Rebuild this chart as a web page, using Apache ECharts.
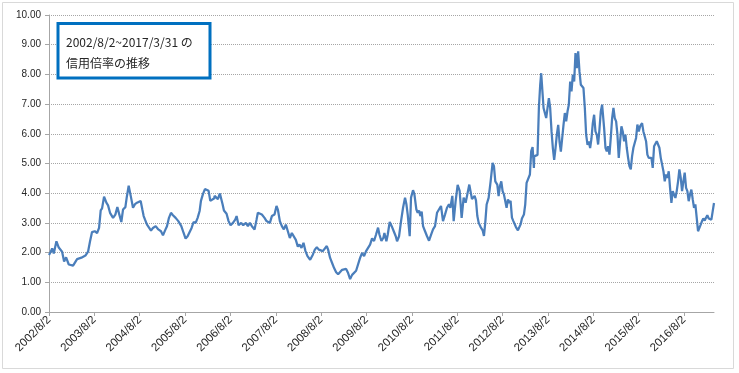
<!DOCTYPE html>
<html>
<head>
<meta charset="utf-8">
<script src="https://cdn.jsdelivr.net/npm/echarts@6/dist/echarts.min.js"></script>
<style>
html,body{margin:0;padding:0;background:#fff;}
#c{width:739px;height:373px;}
</style>
</head>
<body>
<div id="c"></div>
<script>
// Title text
const titleLines = ['2002/8/2~2017/3/31 の', '信用倍率の推移'];

// X tick labels (one per year, each at Aug 2)
const tickLabels = ['2002/8/2','2003/8/2','2004/8/2','2005/8/2','2006/8/2','2007/8/2','2008/8/2',
  '2009/8/2','2010/8/2','2011/8/2','2012/8/2','2013/8/2','2014/8/2','2015/8/2','2016/8/2'];

// Observation times as decimal years (2002/8/2 ... 2017/3/31)
const timeYears = [
 2002.584,2002.623,2002.653,2002.689,2002.748,2002.799,2002.873,2002.917,2002.961,2003.020,
 2003.115,2003.203,2003.247,2003.299,2003.387,2003.445,2003.489,2003.533,2003.592,2003.644,
 2003.688,2003.724,2003.754,2003.798,2003.849,2003.886,2003.930,2003.996,2004.047,2004.091,
 2004.135,2004.179,2004.216,2004.268,2004.297,2004.341,
 2004.400,2004.436,2004.480,2004.525,2004.569,2004.605,2004.642,2004.671,2004.701,2004.745,
 2004.789,2004.833,2004.877,2004.936,2004.994,2005.053,2005.097,2005.141,2005.185,2005.229,
 2005.273,2005.317,2005.376,2005.435,2005.501,2005.552,2005.596,2005.640,2005.684,2005.728,
 2005.772,2005.817,2005.861,2005.905,2005.934,2005.978,2006.022,2006.066,2006.103,2006.140,
 2006.184,2006.228,
 2006.235,2006.279,2006.308,2006.352,2006.382,2006.411,2006.441,2006.499,2006.543,2006.587,
 2006.639,2006.690,2006.720,2006.764,2006.822,2006.866,2006.925,2006.969,2007.013,2007.057,
 2007.116,2007.160,2007.189,2007.233,2007.277,2007.336,2007.380,2007.424,2007.454,2007.498,
 2007.556,2007.600,2007.630,2007.674,2007.718,2007.762,2007.806,2007.850,2007.894,2007.938,
 2007.982,2008.026,2008.070,
 2008.107,2008.151,2008.195,2008.239,2008.283,2008.342,2008.401,2008.445,2008.489,2008.533,
 2008.577,2008.621,2008.665,2008.709,2008.738,2008.782,2008.826,2008.870,2008.915,2008.959,
 2009.003,2009.047,2009.091,2009.135,2009.179,2009.223,2009.267,2009.311,2009.355,2009.399,
 2009.443,2009.487,2009.531,2009.575,2009.619,2009.663,2009.707,2009.751,2009.795,2009.839,
 2009.869,2009.913,2009.957,
 2009.979,2010.023,2010.052,2010.096,2010.140,2010.185,2010.229,2010.258,2010.302,2010.346,
 2010.390,2010.434,2010.464,2010.493,2010.537,2010.566,2010.610,2010.640,2010.684,2010.713,
 2010.742,2010.772,2010.801,2010.831,2010.875,2010.919,2010.963,2011.007,2011.051,2011.095,
 2011.139,2011.183,2011.227,2011.271,2011.315,2011.359,2011.403,2011.433,2011.477,2011.506,
 2011.550,2011.594,2011.638,2011.682,2011.726,2011.770,2011.814,
 2011.851,2011.888,2011.910,2011.939,2011.968,2011.998,2012.027,2012.057,2012.101,2012.145,
 2012.174,2012.203,2012.233,2012.277,2012.321,2012.365,2012.394,2012.424,2012.468,2012.497,
 2012.526,2012.556,2012.585,2012.614,2012.644,2012.673,2012.703,2012.732,2012.761,2012.791,
 2012.820,2012.849,2012.879,2012.923,2012.952,2012.982,2013.011,2013.055,2013.084,2013.114,
 2013.158,2013.187,2013.216,2013.246,2013.275,
 2013.282,2013.326,2013.355,2013.385,2013.414,2013.436,2013.458,2013.488,2013.517,2013.546,
 2013.576,2013.605,2013.634,2013.664,2013.693,2013.722,2013.752,2013.781,2013.811,2013.840,
 2013.869,2013.899,2013.928,2013.957,2013.987,2014.016,2014.045,2014.075,2014.104,2014.134,
 2014.163,2014.192,2014.222,2014.251,2014.280,2014.310,2014.339,2014.368,2014.398,2014.427,
 2014.457,2014.486,2014.515,2014.545,2014.574,
 2014.603,2014.632,2014.662,2014.691,2014.720,2014.750,2014.779,2014.801,2014.823,2014.853,
 2014.882,2014.911,2014.941,2014.970,2015.000,2015.029,2015.058,2015.088,2015.117,2015.146,
 2015.176,2015.205,2015.234,2015.264,2015.293,2015.322,2015.352,2015.381,2015.411,2015.440,
 2015.469,2015.499,2015.528,2015.557,2015.587,2015.616,2015.660,2015.689,2015.719,2015.748,
 2015.777,2015.807,2015.836,2015.866,2015.895,
 2015.925,2015.954,2015.984,2016.013,2016.042,2016.072,2016.101,2016.131,2016.160,2016.189,
 2016.219,2016.248,2016.277,2016.307,2016.336,2016.365,2016.395,2016.424,2016.454,2016.483,
 2016.512,2016.542,2016.571,2016.600,2016.630,2016.659,2016.688,2016.718,2016.747,2016.777,
 2016.806,2016.835,2016.865,2016.894,2016.923,2016.953,2016.982,2017.011,2017.041,2017.070,
 2017.099,2017.129,2017.158,2017.188,2017.217,2017.246
];

// Margin-trading ratio (信用倍率)
const ratio = [
 1.92,2.03,2.14,1.97,2.38,2.17,2.03,1.70,1.84,1.60,
 1.56,1.78,1.72,1.83,1.90,2.03,2.38,2.69,2.72,2.66,
 2.83,3.42,3.49,3.88,3.68,3.59,3.34,3.17,3.28,3.53,
 3.28,3.03,3.45,3.53,3.85,4.25,
 3.80,3.51,3.63,3.68,3.63,3.74,3.45,3.23,3.11,2.94,
 2.89,2.74,2.83,2.89,2.78,2.72,2.58,2.74,2.89,3.17,
 3.34,3.26,3.17,3.06,2.89,2.66,2.47,2.55,2.60,2.83,
 3.03,3.00,3.17,3.40,3.74,3.97,4.14,4.19,4.08,3.74,
 3.80,3.83,
 3.91,3.97,3.80,3.99,4.02,3.63,3.42,3.31,3.06,2.92,
 3.00,3.11,3.23,2.92,3.00,2.92,3.00,2.89,3.00,2.89,
 2.78,3.11,3.34,3.40,3.28,3.17,3.06,3.11,3.00,3.23,
 3.28,3.57,3.45,3.06,2.89,2.78,2.94,2.72,2.49,2.66,
 2.60,2.43,2.20,
 2.27,2.16,2.33,2.05,1.88,1.76,1.93,2.10,2.18,2.10,
 2.07,2.05,1.99,2.22,2.10,1.82,1.65,1.48,1.34,1.27,
 1.31,1.42,1.39,1.45,1.31,1.11,1.25,1.31,1.39,1.45,
 1.82,1.99,1.88,2.05,2.10,2.27,2.48,2.39,2.61,2.84,
 2.61,2.39,2.50,
 2.66,2.38,2.60,3.03,2.89,2.72,2.55,2.38,2.55,3.06,
 3.51,3.85,3.63,3.28,2.55,3.85,4.10,3.97,3.45,3.34,
 3.42,3.23,3.38,2.89,2.72,2.55,2.40,2.60,2.78,2.89,
 3.34,3.40,3.57,3.06,3.28,3.51,3.63,3.51,3.91,3.06,
 3.74,4.28,4.08,3.17,3.85,3.68,3.63,
 4.29,4.35,3.80,3.74,3.91,3.76,3.24,3.01,2.86,2.75,
 2.56,3.01,3.62,3.84,4.40,5.02,4.91,4.40,4.29,3.90,
 4.24,4.40,4.07,3.96,4.01,3.51,3.79,3.67,3.74,3.18,
 3.07,3.12,2.86,2.75,2.72,2.95,3.15,3.28,3.62,4.35,
 4.38,4.63,5.42,5.55,4.85,
 5.24,5.18,5.29,6.87,7.65,8.04,7.54,6.87,6.70,6.53,
 6.87,7.20,6.87,6.08,5.52,5.12,5.52,5.97,6.30,5.74,
 5.40,5.85,6.30,6.70,6.42,6.75,6.98,7.76,7.43,7.99,
 7.76,8.72,8.21,8.78,8.10,7.65,7.71,7.54,6.87,5.97,
 5.63,5.74,5.52,5.85,6.36,
 6.64,6.08,5.97,5.64,6.14,6.75,6.98,7.03,6.20,5.53,
 5.41,5.58,5.30,5.86,6.53,6.87,6.53,6.42,5.97,5.19,
 5.75,6.25,6.08,5.75,5.97,5.53,5.19,4.91,4.80,5.25,
 5.53,5.47,5.86,6.31,6.08,6.25,6.36,6.08,6.14,5.75,
 5.30,5.19,5.13,5.19,4.85,
 5.58,5.53,5.75,5.70,5.53,5.19,4.97,4.74,4.40,4.63,
 4.52,4.74,4.18,3.67,4.07,4.12,3.84,4.07,4.40,4.80,
 4.52,4.07,4.40,4.69,4.18,4.07,3.73,3.96,4.12,3.79,
 3.51,3.62,3.17,2.72,2.78,2.94,3.06,3.15,3.08,3.17,
 3.26,3.15,3.19,3.11,3.39,3.67
];

const startYear = 2002.584;
const endYear = 2017.246;
const tickPositions = tickLabels.map((_, i) => startYear + i);
const seriesData = timeYears.map((t, i) => [t, ratio[i]]);

const chart = echarts.init(document.getElementById('c'), null, {renderer: 'canvas'});
const axisFont = 'Liberation Sans, Arial, sans-serif';
chart.setOption({
  animation: false,
  backgroundColor: '#ffffff',
  grid: {left: 49, right: 25, top: 15, bottom: 61, containLabel: false, outerBoundsMode: 'none'},
  xAxis: {
    type: 'value',
    min: startYear,
    max: endYear,
    splitLine: {show: false},
    axisLine: {show: true, onZero: false, lineStyle: {color: '#a6a6a6', width: 1}},
    axisTick: {show: true, length: 4, customValues: tickPositions, lineStyle: {color: '#a6a6a6'}},
    axisLabel: {
      customValues: tickPositions,
      rotate: 45,
      fontSize: 11.5,
      color: '#262626',
      fontFamily: axisFont,
      margin: 6,
      formatter: v => tickLabels[Math.round(v - startYear)] || ''
    }
  },
  yAxis: {
    type: 'value',
    min: 0, max: 10, interval: 1,
    axisLine: {show: true, lineStyle: {color: '#a6a6a6', width: 1}},
    axisTick: {show: true, length: 4, lineStyle: {color: '#a6a6a6'}},
    splitLine: {show: true, lineStyle: {color: '#a6a6a6', type: [1, 1], width: 1}},
    axisLabel: {fontSize: 10, color: '#262626', fontFamily: axisFont, margin: 8,
      formatter: v => v.toFixed(2)}
  },
  series: [{
    type: 'line',
    data: seriesData,
    showSymbol: false,
    symbol: 'none',
    lineStyle: {color: '#4A7EBB', width: 2.25},
    z: 3
  }],
  graphic: [
    {type: 'rect', shape: {x: 2.5, y: 2.5, width: 731, height: 366},
     style: {fill: null, stroke: '#d9d9d9', lineWidth: 1}, silent: true, z: 0},
    {type: 'rect', shape: {x: 58, y: 23.5, width: 152, height: 54.5},
     style: {fill: '#ffffff', stroke: '#0070C0', lineWidth: 3}, z: 10},
    {type: 'text', x: 66, y: 32,
     style: {text: titleLines.join('\n'), font: '12px "Noto Sans CJK JP", sans-serif',
             fill: '#262626', lineHeight: 21}, z: 11}
  ]
});
</script>
</body>
</html>
